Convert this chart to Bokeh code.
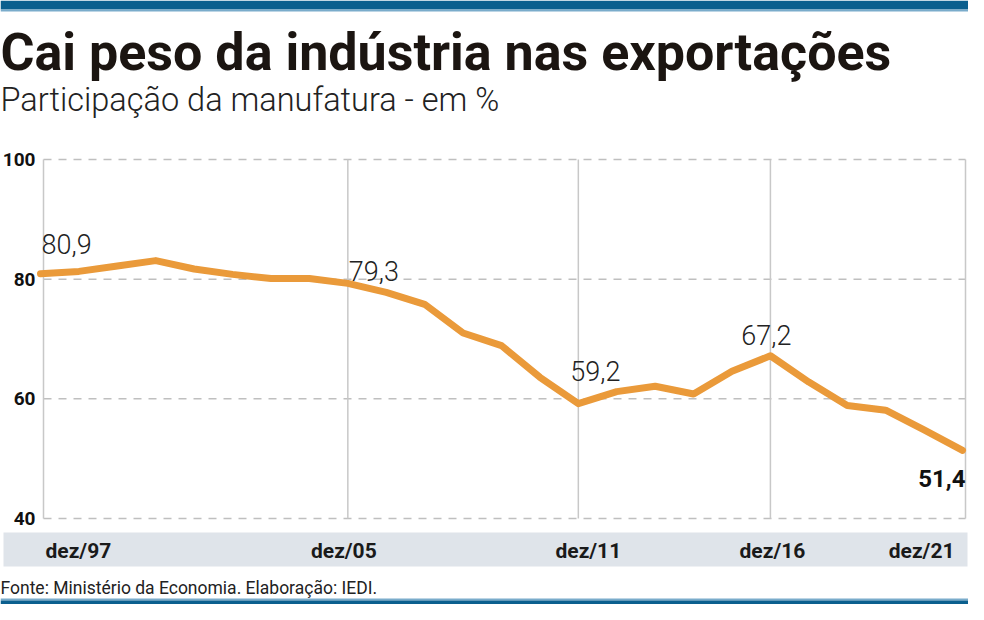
from bokeh.plotting import figure
from bokeh.models import ColumnDataSource, Range1d, LabelSet
from bokeh.core.properties import value
from bokeh.embed import file_html
from bokeh.resources import INLINE

# ---------------- data ----------------
years = list(range(1997, 2022))
share = [80.9, 81.3, 82.2, 83.1, 81.7, 80.8, 80.1, 80.1, 79.3, 77.8, 75.8, 71.0,
         68.9, 63.6, 59.2, 61.2, 62.1, 60.8, 64.6, 67.2, 62.8, 58.9, 58.1, 54.8, 51.4]
label_years = [1997, 2005, 2011, 2016]
last_year = 2021
y_ticks = [40, 60, 80, 100]
y_tick_labels = ["40", "60", "80", "100"]
x_label_years = [1997, 2005, 2011, 2016, 2021]
x_label_texts = ["dez/97", "dez/05", "dez/11", "dez/16", "dez/21"]

title = "Cai peso da indústria nas exportações"
subtitle = "Participação da manufatura - em %"
footer = "Fonte: Ministério da Economia. Elaboração: IEDI."

# ---------------- layout (pixel geometry of the canvas) ----------------
W, H = 968, 604
X_FIRST_PX, X_LAST_PX = 40, 962          # where first / last year sit
Y_TOP_PX, Y_BOT_PX = 159, 518            # where 100 / 40 sit
PPX = (X_LAST_PX - X_FIRST_PX) / (years[-1] - years[0])
PPY = (Y_BOT_PX - Y_TOP_PX) / (y_ticks[-1] - y_ticks[0])
X_START = years[0] - X_FIRST_PX / PPX
X_END = X_START + W / PPX
Y_END = y_ticks[-1] + Y_TOP_PX / PPY
Y_START = Y_END - H / PPY


def X(px):
    return X_START + px / PPX


def Y(px):
    return Y_END - px / PPY


ORANGE = "#EA9A3A"
DARK_BLUE = "#0b5f8e"
LIGHT_BLUE = "#7aaccb"
BAND = "#dfe4ea"
GRID = "#bfbfbf"
VLINE = "#c8c8c8"
BOLD_FONT = value("Roboto")
LIGHT_FONT = value("Roboto Light")

p = figure(width=W, height=H, output_backend="svg", toolbar_location=None,
           x_range=Range1d(X_START, X_END), y_range=Range1d(Y_START, Y_END),
           x_axis_location=None, y_axis_location=None, min_border=0,
           outline_line_color=None, background_fill_color="white",
           border_fill_color="white")
p.grid.visible = False

# top / bottom rules
p.quad(left=[X(0)], right=[X(W)], top=[Y(0)], bottom=[Y(9)], fill_color=DARK_BLUE, line_color=None)
p.quad(left=[X(0)], right=[X(W)], top=[Y(9)], bottom=[Y(11)], fill_color=LIGHT_BLUE, line_color=None)
p.quad(left=[X(0)], right=[X(W)], top=[Y(598)], bottom=[Y(600)], fill_color=LIGHT_BLUE, line_color=None)
p.quad(left=[X(0)], right=[X(W)], top=[Y(600)], bottom=[Y(H)], fill_color=DARK_BLUE, line_color=None)

# titles
p.text(x=[X(0)], y=[Y(52)], text=[title], text_font=BOLD_FONT, text_font_style="bold",
       text_font_size="52px", text_color="#1b1511", text_baseline="alphabetic")
p.text(x=[X(0)], y=[Y(99)], text=[subtitle], text_font=LIGHT_FONT,
       text_font_size="32.5px", text_color="#222222", text_baseline="alphabetic")

# chart frame lines
left_px, right_px = 43, 965
p.segment(x0=[X(left_px)] * len(y_ticks), x1=[X(right_px)] * len(y_ticks),
          y0=y_ticks, y1=y_ticks, line_color=GRID, line_width=1.5, line_dash="8 7")
vx = [X(left_px)] + x_label_years[1:-1] + [X(right_px)]
p.segment(x0=vx, x1=vx, y0=[y_ticks[0]] * len(vx), y1=[y_ticks[-1]] * len(vx),
          line_color=VLINE, line_width=1.5)

# y tick labels
p.text(x=[X(35)] * len(y_ticks), y=y_ticks, text=y_tick_labels, text_font=BOLD_FONT,
       text_font_style="bold", text_font_size="19px", text_color="#111111",
       text_align="right", text_baseline="middle")

# x label band
p.quad(left=[X(3)], right=[X(967)], top=[Y(532)], bottom=[Y(566)], fill_color=BAND,
       line_color=None)
xsrc = ColumnDataSource(dict(
    x=x_label_years, y=[Y(550)] * len(x_label_years), text=x_label_texts,
    xo=[5, -4, 10, 2, -8], align=["left", "center", "center", "center", "right"]))
p.text(x="x", y="y", text="text", source=xsrc, x_offset="xo", text_align="align",
       text_font=BOLD_FONT, text_font_style="bold", text_font_size="21px",
       text_color="#1a1a1a", text_baseline="alphabetic")

# the series
p.line(years, share, line_color=ORANGE, line_width=7, line_join="round",
       line_cap="round")


def fmt(v):
    return f"{v:.1f}".replace(".", ",")


lab_vals = [share[years.index(y)] for y in label_years]
lab_src = ColumnDataSource(dict(
    x=label_years, y=lab_vals, text=[fmt(v) for v in lab_vals],
    xo=[1, 1, 17, -4], yo=[20, 2, 23, 11],
    align=["left", "left", "center", "center"]))
p.add_layout(LabelSet(x="x", y="y", text="text", source=lab_src,
                      x_offset="xo", y_offset="yo", text_align="align",
                      text_baseline="alphabetic", text_font=LIGHT_FONT,
                      text_font_size="27px", text_color="#222222"))
last_val = share[years.index(last_year)]
last_src = ColumnDataSource(dict(x=[last_year], y=[last_val], text=[fmt(last_val)]))
p.add_layout(LabelSet(x="x", y="y", text="text", source=last_src,
                      x_offset=3, y_offset=-37, text_align="right",
                      text_baseline="alphabetic", text_font=BOLD_FONT,
                      text_font_style="bold", text_font_size="24px",
                      text_color="#111111"))

# footer
p.text(x=[X(0)], y=[Y(587)], text=[footer], text_font=BOLD_FONT,
       text_font_size="17.5px", text_color="#222222", text_baseline="alphabetic")

open("out.html", "w").write(file_html(p, INLINE))
